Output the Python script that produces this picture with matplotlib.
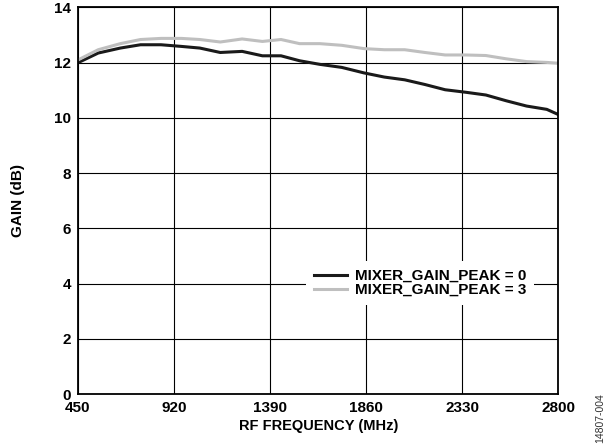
import matplotlib
matplotlib.use('Agg')
import matplotlib.pyplot as plt

# readings from the reference curves
freq = [450, 549, 657, 756, 856, 956, 1046, 1146, 1253, 1352, 1443, 1534, 1633,
        1740, 1849, 1948, 2048, 2147, 2246, 2346, 2445, 2545, 2644, 2743, 2800]
gain_peak0 = [12.00, 12.35, 12.53, 12.65, 12.65, 12.59, 12.53, 12.37, 12.41, 12.25,
              12.25, 12.07, 11.94, 11.83, 11.63, 11.48, 11.38, 11.21, 11.02, 10.93,
              10.83, 10.62, 10.43, 10.31, 10.12]
gain_peak3 = [12.10, 12.47, 12.69, 12.84, 12.88, 12.88, 12.84, 12.75, 12.86, 12.77,
              12.84, 12.69, 12.69, 12.63, 12.51, 12.47, 12.47, 12.37, 12.28, 12.28,
              12.26, 12.14, 12.04, 12.01, 11.98]
xticks = [450, 920, 1390, 1860, 2330, 2800]
yticks = [0, 2, 4, 6, 8, 10, 12, 14]

plt.rcParams['font.family'] = ['Liberation Sans', 'DejaVu Sans']

fig = plt.figure(figsize=(6.04, 4.48), dpi=100)
ax = fig.add_axes([0.1291, 0.1205, 0.7955, 0.8628])

ax.plot(freq, gain_peak0, color='#1a1a1a', lw=2.2, label='MIXER_GAIN_PEAK = 0')
ax.plot(freq, gain_peak3, color='#bfbfbf', lw=2.2, label='MIXER_GAIN_PEAK = 3')

ax.set_xlim(450, 2800)
ax.set_ylim(0, 14)
ax.set_xticks(xticks)
ax.set_yticks(yticks)
ax.grid(True, color='black', lw=0.8)
ax.tick_params(length=0, pad=5, labelsize=11)
for lab in ax.get_xticklabels() + ax.get_yticklabels():
    lab.set_fontweight('bold')
for s in ax.spines.values():
    s.set_linewidth(1.3)

ax.set_xlabel('RF FREQUENCY (MHz)', fontsize=10.5, fontweight='bold', labelpad=3)
ax.set_ylabel('GAIN (dB)', fontsize=11, fontweight='bold', labelpad=21)

leg = ax.legend(loc='center', bbox_to_anchor=(0.712, 0.287), frameon=True,
                fancybox=False, edgecolor='none', framealpha=1,
                prop={'weight': 'bold', 'size': 11}, handlelength=2.2,
                handletextpad=0.5, labelspacing=0.0, borderpad=0.5)

fig.text(0.993, 0.067, '14807-004', rotation=90, fontsize=7.5, color='#333333',
         ha='center', va='center')

fig.savefig('out.png', dpi=100)
